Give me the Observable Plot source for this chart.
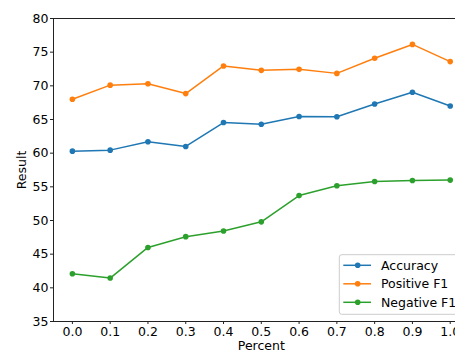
<!DOCTYPE html>
<html><head><meta charset="utf-8">
<script src="https://cdn.jsdelivr.net/npm/d3@7"></script>
<script src="https://cdn.jsdelivr.net/npm/@observablehq/plot@0.6"></script>
<style>
html,body{margin:0;padding:0;background:#fff;overflow:hidden;}
#wrap{position:relative;width:455px;height:351px;overflow:hidden;}
#wrap svg{overflow:hidden;}
</style></head><body><div id="wrap"></div>
<script>
const percents = [0.0, 0.1, 0.2, 0.3, 0.4, 0.5, 0.6, 0.7, 0.8, 0.9, 1.0];
const seriesNames = ["Accuracy", "Positive F1", "Negative F1"];
const accuracy   = [60.3, 60.45, 61.7, 61.0, 64.55, 64.3, 65.45, 65.4, 67.3, 69.05, 67.0];
const positiveF1 = [68.0, 70.1, 70.3, 68.85, 72.95, 72.3, 72.45, 71.85, 74.1, 76.15, 73.6];
const negativeF1 = [42.1, 41.45, 46.0, 47.6, 48.45, 49.8, 53.7, 55.15, 55.8, 55.95, 56.0];
const colors = ["#1f77b4", "#ff7f0e", "#2ca02c"];
const xTicks = [0.0, 0.1, 0.2, 0.3, 0.4, 0.5, 0.6, 0.7, 0.8, 0.9, 1.0];
const yTicks = [35, 40, 45, 50, 55, 60, 65, 70, 75, 80];
const xLabel = "Percent";
const yLabel = "Result";

const seriesValues = [accuracy, positiveF1, negativeF1];
const data = [];
seriesNames.forEach((name, i) => {
  percents.forEach((p, j) => data.push({series: name, percent: p, value: seriesValues[i][j]}));
});

const font = "DejaVu Sans, sans-serif";
const fs = 12.5;
const chart = Plot.plot({
  width: 455,
  height: 351,
  marginLeft: 53,
  marginTop: 18,
  marginBottom: 30,
  marginRight: -13.6,
  style: {fontFamily: font, fontSize: fs + "px", color: "#000", background: "#fff", overflow: "hidden"},
  x: {domain: [-0.05, 1.05]},
  y: {domain: [35, 80]},
  color: {domain: seriesNames, range: colors},
  marks: [
    Plot.frame({stroke: "#222", strokeWidth: 1}),
    Plot.axisY({ticks: yTicks, tickSize: 3, tickPadding: 2, label: null, fontSize: fs, stroke: "#222"}),
    Plot.axisX({ticks: xTicks, tickFormat: d3.format(".1f"), tickSize: 3, tickPadding: 2.5, label: null, fontSize: fs, stroke: "#222"}),
    Plot.text([xLabel], {frameAnchor: "bottom", dy: 24.7, lineAnchor: "middle", textAnchor: "middle", fontSize: fs}),
    Plot.text([yLabel], {frameAnchor: "left", dx: -31.3, rotate: -90, textAnchor: "middle", lineAnchor: "middle", fontSize: fs}),
    Plot.line(data, {x: "percent", y: "value", stroke: "series", z: "series", strokeWidth: 1.5}),
    Plot.dot(data, {x: "percent", y: "value", fill: "series", r: 2.8})
  ]
});
document.getElementById("wrap").appendChild(chart);

// legend (matplotlib-style, lower right)
const svg = d3.select(chart);
const lg = svg.append("g").attr("font-family", font).attr("font-size", fs).attr("text-anchor", "start");
const box = {x: 339.3, y: 254.7, w: 124.3, h: 59.6};
lg.append("rect").attr("x", box.x).attr("y", box.y).attr("width", box.w).attr("height", box.h)
  .attr("rx", 2.5).attr("fill", "#fff").attr("fill-opacity", 0.8).attr("stroke", "#cccccc").attr("stroke-width", 1);
seriesNames.forEach((name, i) => {
  const cy = box.y + 10.6 + i * 18.5;
  lg.append("line").attr("x1", box.x + 4).attr("x2", box.x + 31.7).attr("y1", cy).attr("y2", cy)
    .attr("stroke", colors[i]).attr("stroke-width", 1.5);
  lg.append("circle").attr("cx", box.x + 18.4).attr("cy", cy).attr("r", 2.8).attr("fill", colors[i]);
  lg.append("text").attr("x", box.x + 41.7).attr("y", cy).attr("dy", "0.35em").attr("fill", "#000")
    .attr("text-anchor", "start").text(name);
});
</script>
</body></html>
